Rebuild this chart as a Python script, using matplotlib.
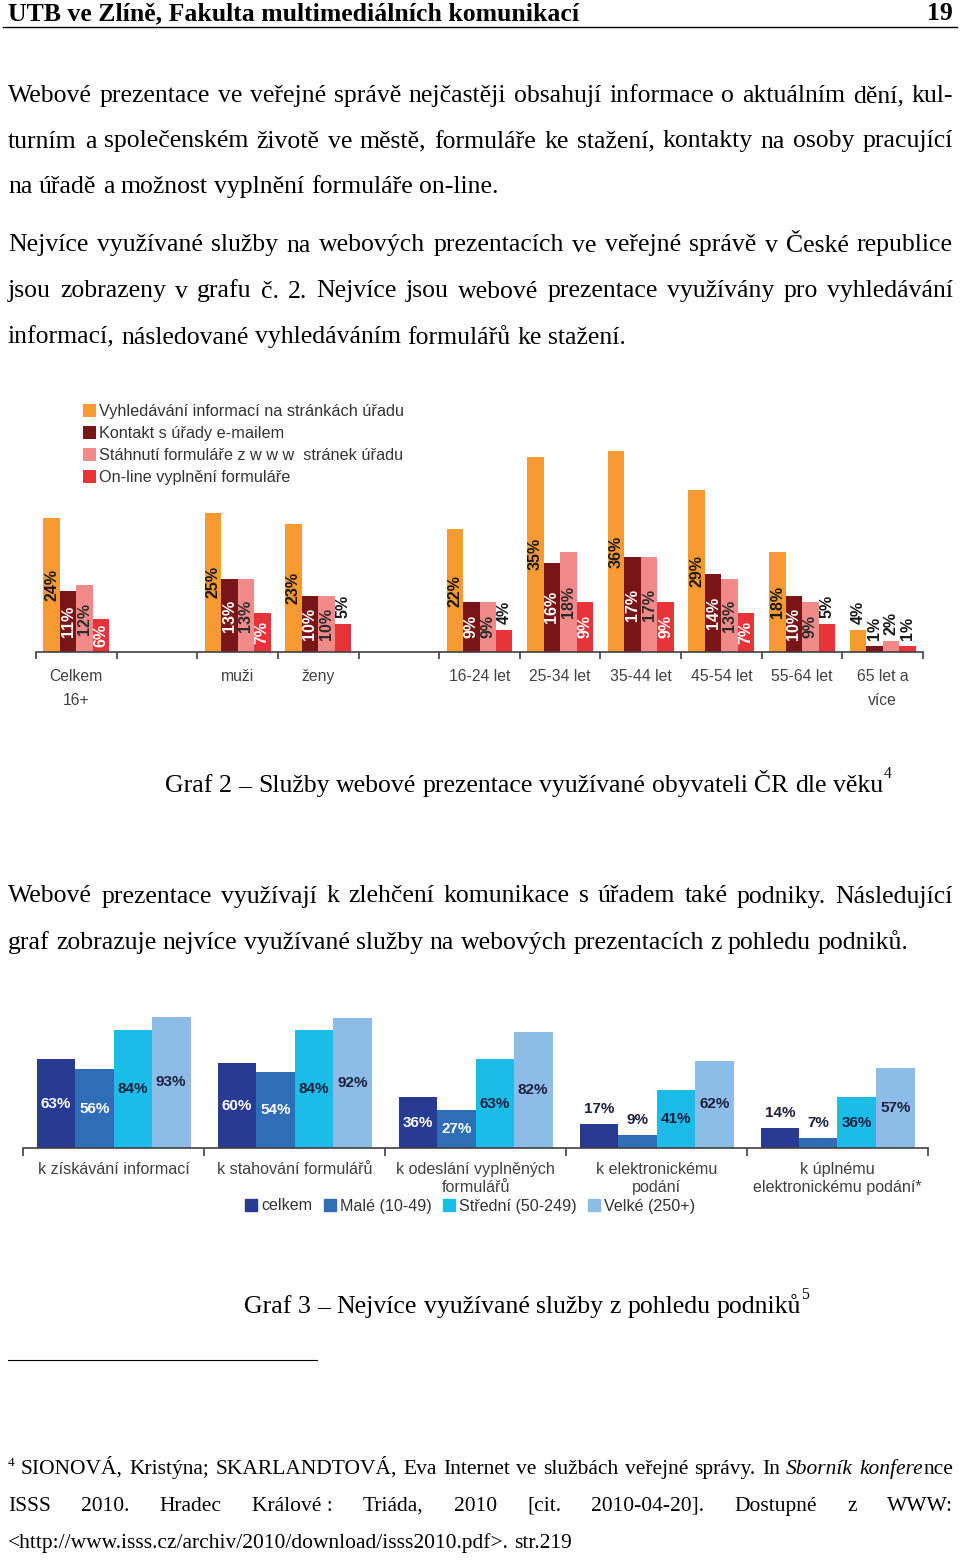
import matplotlib
matplotlib.use("Agg")
import matplotlib.pyplot as plt
from matplotlib.lines import Line2D
from matplotlib.patches import Patch
import numpy as np

W, H = 960, 1564
SERIF = "Liberation Serif"
SANS = "Liberation Sans"

#--------------------- Data: Graf 2 (obyvatelé) ---------------------
age_categories = ["Celkem\n16+", "", "muži", "ženy", "", "16-24 let", "25-34 let",
                  "35-44 let", "45-54 let", "55-64 let", "65 let a\nvíce"]
search_info = [24, None, 25, 23, None, 22, 35, 36, 29, 18, 4]
email_contact = [11, None, 13, 10, None, 9, 16, 17, 14, 10, 1]
download_forms = [12, None, 13, 10, None, 9, 18, 17, 13, 9, 2]
online_forms = [6, None, 7, 5, None, 4, 9, 9, 7, 5, 1]
age_series_names = ["Vyhledávání informací na stránkách úřadu", "Kontakt s úřady e-mailem",
                    "Stáhnutí formuláře z w w w  stránek úřadu", "On-line vyplnění formuláře"]

#--------------------- Data: Graf 3 (podniky) -----------------------
service_categories = ["k získávání informací", "k stahování formulářů",
                      "k odeslání vyplněných\nformulářů", "k elektronickému\npodání",
                      "k úplnému\nelektronickému podání*"]
firms_total = [63, 60, 36, 17, 14]
firms_small = [56, 54, 27, 9, 7]
firms_medium = [84, 84, 63, 41, 36]
firms_large = [93, 92, 82, 62, 57]
firm_series_names = ["celkem", "Malé (10-49)", "Střední (50-249)", "Velké (250+)"]

#--------------------- Page text -----------------------
para1 = ["Webové prezentace ve veřejné správě nejčastěji obsahují informace o aktuálním dění, kul-",
         "turním a společenském životě ve městě, formuláře ke stažení, kontakty na osoby pracující",
         "na úřadě a možnost vyplnění formuláře on-line."]
para2 = ["Nejvíce využívané služby na webových prezentacích ve veřejné správě v České republice",
         "jsou zobrazeny v grafu č. 2. Nejvíce jsou webové prezentace využívány pro vyhledávání",
         "informací, následované vyhledáváním formulářů ke stažení."]
para3 = ["Webové prezentace využívají k zlehčení komunikace s úřadem také podniky. Následující",
         "graf zobrazuje nejvíce využívané služby na webových prezentacích z pohledu podniků."]
caption2 = "Graf 2 – Služby webové prezentace využívané obyvateli ČR dle věku"
caption3 = "Graf 3 – Nejvíce využívané služby z pohledu podniků"

fig = plt.figure(figsize=(W / 100, H / 100), dpi=100)
fig.patch.set_facecolor("white")
renderer = fig.canvas.get_renderer()


def fx(x):
    return x / W


def fy(y):
    return 1 - y / H


def text_width(s, size, **props):
    t = fig.text(0, 0, s, fontsize=size, **props)
    w = t.get_window_extent(renderer=renderer).width
    t.remove()
    return w


def fit_size(s, target, **props):
    return 10 * target / text_width(s, 10, **props)


def put_line(words, x0, x1, y, size, justify=True, **props):
    pieces = []
    for w in words:
        segs = w if isinstance(w, list) else [(w, {})]
        row = []
        for s, extra in segs:
            t = fig.text(0, fy(y), s, fontsize=size, va="baseline", ha="left", **{**props, **extra})
            row.append((t, t.get_window_extent(renderer=renderer).width))
        pieces.append(row)
    total = sum(wd for row in pieces for _, wd in row)
    if justify and len(pieces) > 1:
        gap = (x1 - x0 - total) / (len(pieces) - 1)
    else:
        gap = text_width("a a", size, **props) - text_width("aa", size, **props)
    x = x0
    for row in pieces:
        for t, wd in row:
            t.set_x(fx(x))
            x += wd
        x += gap
    return x - gap


def put_paragraph(lines, baselines, size, **props):
    for i, (line, y) in enumerate(zip(lines, baselines)):
        put_line(line.split(), 8, 953, y, size, justify=(i < len(lines) - 1), **props)


#--------------------- Header -----------------------
head_size = fit_size("UTB ve Zlíně, Fakulta multimediálních komunikací", 570, family=SERIF, weight="bold")
fig.text(fx(8), fy(20), "UTB ve Zlíně, Fakulta multimediálních komunikací", fontsize=head_size,
         family=SERIF, weight="bold", va="baseline")
fig.text(fx(953), fy(20), "19", fontsize=head_size, family=SERIF, weight="bold", va="baseline", ha="right")
fig.add_artist(Line2D([fx(3), fx(957)], [fy(27), fy(27)], color="black", lw=1.0))

#--------------------- Body -----------------------
body = fit_size(para2[2], 617, family=SERIF)
put_paragraph(para1, [102, 147.5, 193], body, family=SERIF)
put_paragraph(para2, [251.5, 297.5, 343.5], body, family=SERIF)
put_paragraph(para3, [902.5, 948.5], body, family=SERIF)

end = put_line(caption2.split(), 165, 900, 792, body, justify=False, family=SERIF)
fig.text(fx(end + 1), fy(778), "4", fontsize=body * 0.62, family=SERIF, va="baseline")
end = put_line(caption3.split(), 244, 900, 1313, body, justify=False, family=SERIF)
fig.text(fx(end), fy(1299), "5", fontsize=body * 0.62, family=SERIF, va="baseline")

#--------------------- Footnote -----------------------
fig.add_artist(Line2D([fx(8), fx(317)], [fy(1360), fy(1360)], color="black", lw=0.8))
note = fit_size("<http://www.isss.cz/archiv/2010/download/isss2010.pdf>. str.219", 563, family=SERIF)
fig.text(fx(8), fy(1466), "4", fontsize=note * 0.62, family=SERIF, va="baseline")
it = {"style": "italic"}
note1 = ["SIONOVÁ,", "Kristýna;", "SKARLANDTOVÁ,", "Eva", "Internet", "ve", "službách", "veřejné",
         "správy.", "In", [("Sborník", it)], [("konfere", it), ("nce", {})]]
put_line(note1, 21, 953, 1474, note, family=SERIF)
note2 = ["ISSS", "2010.", "Hradec", "Králové :", "Triáda,", "2010", "[cit.", "2010-04-20].",
         "Dostupné", "z", "WWW:"]
put_line(note2, 8, 953, 1511, note, family=SERIF)
put_line(["<http://www.isss.cz/archiv/2010/download/isss2010.pdf>.", "str.219"], 8, 953, 1548, note,
         justify=False, family=SERIF)

#--------------------- Graf 2 -----------------------
ax1 = fig.add_axes([fx(36), fy(652), (923 - 36) / W, (652 - 395) / H])
age_colors = ["#F79A31", "#7A1517", "#F28A8A", "#E8333A"]
label_colors = ["#1a1a1a", "white", "#2b2b2b", "white"]
x1 = np.arange(len(age_categories))
bw1 = 16.5 / 80.64
for i, (vals, c, lc) in enumerate(zip([search_info, email_contact, download_forms, online_forms],
                                      age_colors, label_colors)):
    v = np.array([np.nan if a is None else a for a in vals], dtype=float)
    ok = ~np.isnan(v)
    xs = x1[ok] + (i - 1.5) * bw1
    ax1.bar(xs, v[ok], bw1, color=c, label=age_series_names[i])
    for xx, vv in zip(xs, v[ok]):
        if vv >= 6:
            ax1.text(xx, vv / 2, f"{vv:.0f}%", rotation=90, ha="center", va="center",
                     fontsize=11.5, weight="bold", color=lc, family=SANS)
        else:
            ax1.annotate(f"{vv:.0f}%", (xx, vv), xytext=(0, 6), textcoords="offset pixels",
                         rotation=90, ha="center", va="bottom", fontsize=11.5, weight="bold",
                         color="#1a1a1a", family=SANS)
ax1.set_xlim(-0.5, len(age_categories) - 0.5)
ax1.set_ylim(0, (652 - 395) / 5.58)
for s in ["top", "left", "right"]:
    ax1.spines[s].set_visible(False)
ax1.spines["bottom"].set_color("#404040")
ax1.spines["bottom"].set_linewidth(1.2)
ax1.set_yticks([])
ax1.set_xticks(x1)
ax1.set_xticklabels(age_categories, family=SANS, fontsize=11.3, color="#404040", linespacing=1.7)
ax1.set_xticks(np.arange(-0.5, len(age_categories)), minor=True)
ax1.tick_params(axis="x", which="major", length=0, pad=12.5)
ax1.tick_params(axis="x", which="minor", length=5, width=1.2, color="#404040", direction="out")
ax1.patch.set_alpha(0)
leg_size = fit_size(age_series_names[0], 306, family=SANS)
ax1.legend(loc="upper left", bbox_to_anchor=(fx(83), fy(404)), bbox_transform=fig.transFigure,
           frameon=False, prop={"family": SANS, "size": leg_size}, labelcolor="#333333",
           handlelength=0.8, handleheight=0.85, handletextpad=0.2, labelspacing=0.42,
           borderpad=0, borderaxespad=0)

#--------------------- Graf 3 -----------------------
ax2 = fig.add_axes([fx(23), fy(1148), (928 - 23) / W, (1148 - 1010) / H])
firm_colors = ["#273B93", "#2F6EB6", "#1BBCE8", "#8DBDE6"]
firm_label_colors = ["white", "white", "#1d2040", "#1d2040"]
x2 = np.arange(len(service_categories))
bw2 = 38.5 / 181
for i, (vals, c, lc) in enumerate(zip([firms_total, firms_small, firms_medium, firms_large],
                                      firm_colors, firm_label_colors)):
    xs = x2 + (i - 1.5) * bw2
    ax2.bar(xs, vals, bw2, color=c)
    for xx, vv in zip(xs, vals):
        if vv >= 20:
            ax2.text(xx, vv / 2, f"{vv}%", ha="center", va="center", fontsize=11,
                     weight="bold", color=lc, family=SANS)
        else:
            ax2.annotate(f"{vv}%", (xx, vv), xytext=(0, 15), textcoords="offset pixels",
                         ha="center", va="center", fontsize=11, weight="bold",
                         color="#1d2040", family=SANS)
ax2.set_xlim(-0.5, len(service_categories) - 0.5)
ax2.set_ylim(0, (1148 - 1010) / 1.41)
for s in ["top", "left", "right"]:
    ax2.spines[s].set_visible(False)
ax2.spines["bottom"].set_color("#404040")
ax2.spines["bottom"].set_linewidth(1.2)
ax2.set_yticks([])
ax2.set_xticks(x2)
cat_size = fit_size(service_categories[0], 152, family=SANS)
ax2.set_xticklabels(service_categories, family=SANS, fontsize=cat_size, color="#404040", linespacing=1.25)
ax2.set_xticks(np.arange(-0.5, len(service_categories)), minor=True)
ax2.tick_params(axis="x", which="major", length=0, pad=10)
ax2.tick_params(axis="x", which="minor", length=6, width=1.2, color="#404040", direction="out")
ax2.patch.set_alpha(0)
handles = [Patch(color=c, label=n) for c, n in zip(firm_colors, firm_series_names)]
leg2_size = fit_size(firm_series_names[2], 118, family=SANS)
fig.legend(handles=handles, loc="center", bbox_to_anchor=(fx(470), fy(1206)), ncol=4,
           frameon=False, prop={"family": SANS, "size": leg2_size}, labelcolor="#333333",
           handlelength=0.75, handleheight=0.8, handletextpad=0.25, columnspacing=0.7,
           borderpad=0, borderaxespad=0)

fig.savefig("out.png", dpi=100)
